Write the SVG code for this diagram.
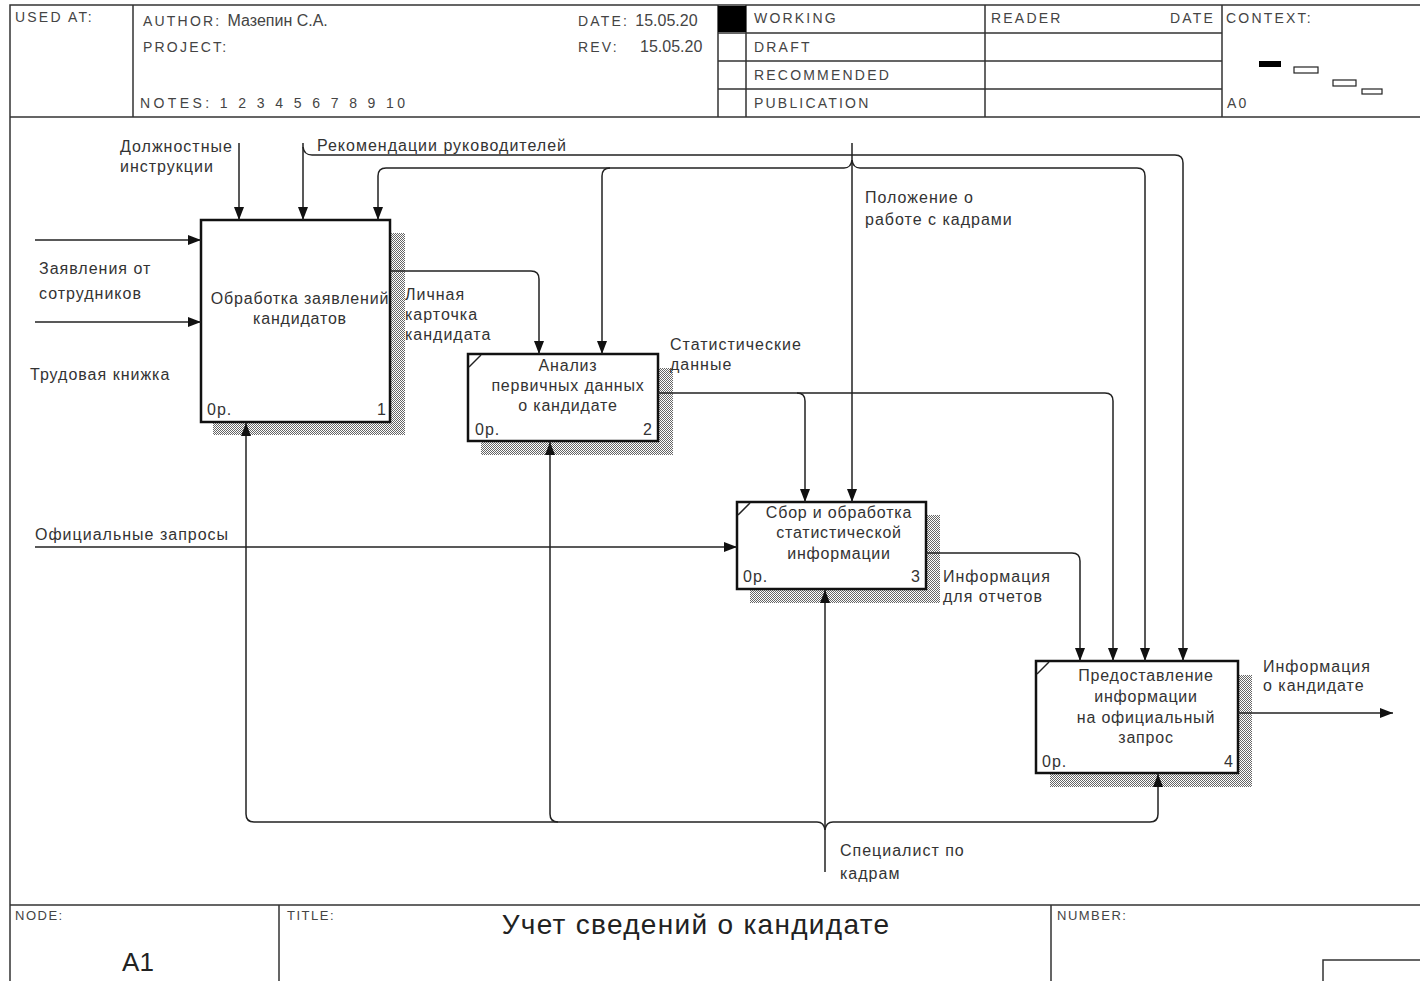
<svg xmlns="http://www.w3.org/2000/svg" width="1420" height="981" viewBox="0 0 1420 981">
<style>
.frame{fill:none;stroke:#333;stroke-width:1.5}
.hd{font-family:"Liberation Sans",Arial,sans-serif;font-size:14px;fill:#444;letter-spacing:2.2px}
.hn{font-family:"Liberation Sans",Arial,sans-serif;font-size:16px;fill:#444;letter-spacing:0}
.lbl{font-family:"Liberation Sans",Arial,sans-serif;font-size:16px;fill:#333;letter-spacing:1px}
.bt{font-family:"Liberation Sans",Arial,sans-serif;font-size:16px;fill:#333;letter-spacing:0.8px;text-anchor:middle}
.box{fill:#fff;stroke:#111;stroke-width:2.5}
.shadow{fill:url(#hatch)}
.con{fill:none;stroke:#222;stroke-width:1.5}
.arr{marker-end:url(#ah)}
</style>
<defs>
<pattern id="hatch" width="2" height="2" patternUnits="userSpaceOnUse">
<rect width="2" height="2" fill="#fff"/>
<rect width="1" height="1" fill="#666"/>
<rect x="1" y="1" width="1" height="1" fill="#666"/>
</pattern>
<marker id="ah" markerUnits="userSpaceOnUse" markerWidth="13" markerHeight="10" refX="13" refY="5" orient="auto">
<path d="M0,0 L13,5 L0,10 z" fill="#111"/>
</marker>
</defs>
<rect width="1420" height="981" fill="#fff"/>

<g id="header">
<path class="frame" d="M10,981 V5 H1420 M10,117 H1420 M133,5 V117 M718,5 V117 M746,5 V117 M985,5 V117 M1222,5 V117 M718,33 H1222 M718,61 H1222 M718,89 H1222"/>
<rect x="718" y="6" width="28" height="26" fill="#000"/>
<text class="hd" x="15" y="22">USED AT:</text>
<text class="hd" x="143" y="26">AUTHOR: <tspan class="hn">Мазепин С.А.</tspan></text>
<text class="hd" x="143" y="52">PROJECT:</text>
<text class="hd" x="140" y="108" style="letter-spacing:3.4px">NOTES: 1 2 3 4 5 6 7 8 9 10</text>
<text class="hd" x="578" y="26">DATE: <tspan class="hn">15.05.20</tspan></text>
<text class="hd" x="578" y="52">REV:</text>
<text class="hn" x="640" y="52">15.05.20</text>
<text class="hd" x="754" y="23">WORKING</text>
<text class="hd" x="754" y="52">DRAFT</text>
<text class="hd" x="754" y="80">RECOMMENDED</text>
<text class="hd" x="754" y="108">PUBLICATION</text>
<text class="hd" x="991" y="23">READER</text>
<text class="hd" x="1170" y="23">DATE</text>
<text class="hd" x="1226" y="23">CONTEXT:</text>
<text class="hd" x="1227" y="108">A0</text>
<rect x="1259" y="61" width="22" height="6" fill="#000"/>
<rect x="1294" y="67" width="24" height="6" fill="#fff" stroke="#222" stroke-width="1.2"/>
<rect x="1333" y="80" width="23" height="6" fill="#fff" stroke="#222" stroke-width="1.2"/>
<rect x="1362" y="89" width="20" height="5" fill="#fff" stroke="#222" stroke-width="1.2"/>
</g>

<g id="footer">
<path class="frame" d="M10,905 H1420 M279,905 V981 M1051,905 V981 M1323,981 V960 H1420"/>
<text class="hd" style="font-size:13px;letter-spacing:1.5px" x="15" y="920">NODE:</text>
<text class="hd" style="font-size:13px;letter-spacing:1.5px" x="287" y="920">TITLE:</text>
<text class="hd" style="font-size:13px;letter-spacing:1.5px" x="1057" y="920">NUMBER:</text>
<text x="138" y="971" font-family="'Liberation Sans',Arial,sans-serif" font-size="26" fill="#222" text-anchor="middle">A1</text>
<text x="696" y="934" font-family="'Liberation Sans',Arial,sans-serif" font-size="28" fill="#222" text-anchor="middle" letter-spacing="1.3">Учет сведений о кандидате</text>
</g>

<g id="node1">
<rect class="shadow" x="391" y="233" width="14" height="202"/>
<rect class="shadow" x="213" y="423" width="192" height="12"/>
<rect class="box" x="201" y="220" width="189" height="202"/>
<text class="bt" x="300" y="304">Обработка заявлений</text>
<text class="bt" x="300" y="324">кандидатов</text>
<text class="lbl" x="207" y="415">0р.</text>
<text class="lbl" x="377" y="415">1</text>
</g>

<g id="node2">
<rect class="shadow" x="659" y="368" width="14" height="87"/>
<rect class="shadow" x="481" y="442" width="192" height="13"/>
<rect class="box" x="468" y="354" width="190" height="87"/>
<path class="con" stroke-width="2" d="M469,367 L481,355"/>
<text class="bt" x="568" y="371">Анализ</text>
<text class="bt" x="568" y="391">первичных данных</text>
<text class="bt" x="568" y="411">о кандидате</text>
<text class="lbl" x="475" y="435">0р.</text>
<text class="lbl" x="643" y="435">2</text>
</g>

<g id="node3">
<rect class="shadow" x="927" y="515" width="13" height="88"/>
<rect class="shadow" x="750" y="590" width="190" height="13"/>
<rect class="box" x="737" y="502" width="189" height="87"/>
<path class="con" stroke-width="2" d="M738,515 L750,503"/>
<text class="bt" x="839" y="518">Сбор и обработка</text>
<text class="bt" x="839" y="538">статистической</text>
<text class="bt" x="839" y="559">информации</text>
<text class="lbl" x="743" y="582">0р.</text>
<text class="lbl" x="911" y="582">3</text>
</g>

<g id="node4">
<rect class="shadow" x="1239" y="675" width="13" height="112"/>
<rect class="shadow" x="1050" y="774" width="202" height="13"/>
<rect class="box" x="1036" y="661" width="202" height="112"/>
<path class="con" stroke-width="2" d="M1037,674 L1049,662"/>
<text class="bt" x="1146" y="681">Предоставление</text>
<text class="bt" x="1146" y="702">информации</text>
<text class="bt" x="1146" y="723">на официальный</text>
<text class="bt" x="1146" y="743">запрос</text>
<text class="lbl" x="1042" y="767">0р.</text>
<text class="lbl" x="1224" y="767">4</text>
</g>

<g id="connectors">
<path class="con arr" d="M35,240 H201"/>
<path class="con arr" d="M35,322 H201"/>
<path class="con arr" d="M35,547 H737"/>
<path class="con arr" d="M239,143 V220"/>
<path class="con arr" d="M303,143 V220"/>
<path class="con arr" d="M303,147 Q304,155 312,155 H1175 Q1183,155 1183,163 V661"/>
<path class="con arr" d="M852,143 V502"/>
<path class="con arr" d="M852,160 Q851,168 844,168 H386 Q378,168 378,176 V220"/>
<path class="con arr" d="M610,168 Q602,168 602,176 V354"/>
<path class="con arr" d="M852,160 Q853,168 860,168 H1137 Q1145,168 1145,176 V661"/>
<path class="con arr" d="M390,271 H531 Q539,271 539,279 V354"/>
<path class="con arr" d="M658,393 H1105 Q1113,393 1113,401 V661"/>
<path class="con arr" d="M797,393 Q805,393 805,401 V502"/>
<path class="con arr" d="M926,553 H1072 Q1080,553 1080,561 V661"/>
<path class="con arr" d="M1238,713 H1393"/>
<path class="con arr" d="M825,872 V590"/>
<path class="con arr" d="M825,830 Q824,822 817,822 H558 Q550,822 550,814 V442"/>
<path class="con arr" d="M558,822 H254 Q246,822 246,814 V423"/>
<path class="con arr" d="M825,830 Q826,822 833,822 H1150 Q1158,822 1158,814 V774"/>
<text class="lbl" x="120" y="152">Должностные</text>
<text class="lbl" x="120" y="172">инструкции</text>
<text class="lbl" x="317" y="151">Рекомендации руководителей</text>
<text class="lbl" x="865" y="203">Положение о</text>
<text class="lbl" x="865" y="225">работе с кадрами</text>
<text class="lbl" x="39" y="274">Заявления от</text>
<text class="lbl" x="39" y="299">сотрудников</text>
<text class="lbl" x="30" y="380">Трудовая книжка</text>
<text class="lbl" x="405" y="300">Личная</text>
<text class="lbl" x="405" y="320">карточка</text>
<text class="lbl" x="405" y="340">кандидата</text>
<text class="lbl" x="670" y="350">Статистические</text>
<text class="lbl" x="670" y="370">данные</text>
<text class="lbl" x="35" y="540">Официальные запросы</text>
<text class="lbl" x="943" y="582">Информация</text>
<text class="lbl" x="943" y="602">для отчетов</text>
<text class="lbl" x="1263" y="672">Информация</text>
<text class="lbl" x="1263" y="691">о кандидате</text>
<text class="lbl" x="840" y="856">Специалист по</text>
<text class="lbl" x="840" y="879">кадрам</text>
</g>
</svg>
